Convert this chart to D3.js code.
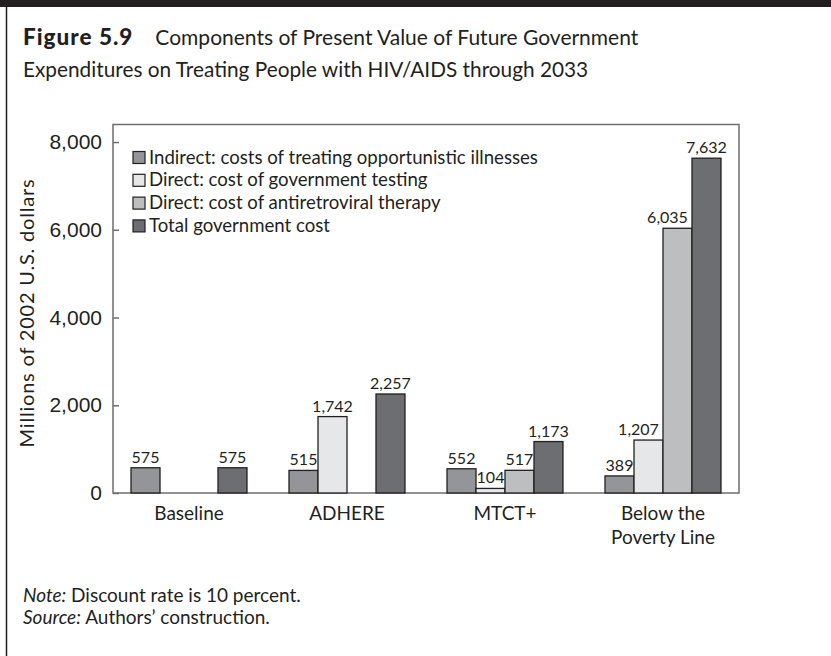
<!doctype html>
<html lang="en">
    <head>
        <meta charset="UTF-8" />
        <title>Figure 5.9</title>
        <script src="https://d3js.org/d3.v7.min.js"></script>
        <style>
            body {
                margin: 0;
                background: #fff;
            }
            svg {
                display: block;
                font-family: Futura, Lato, "Noto Sans", sans-serif;
                fill: #231f20;
            }
        </style>
    </head>
    <body>
        <svg id="chart" width="831" height="656"></svg>
        <script>
            const scenarios = ["Baseline", "ADHERE", "MTCT+", "Below the\nPoverty Line"];
            const seriesNames = [
                "Indirect: costs of treating opportunistic illnesses",
                "Direct: cost of government testing",
                "Direct: cost of antiretroviral therapy",
                "Total government cost",
            ];
            // null = no bar in the original
            const indirect = [575, 515, 552, 389];
            const testing = [null, 1742, 104, 1207];
            const art = [null, null, 517, 6035];
            const total = [575, 2257, 1173, 7632];
            const yTicks = [0, 2000, 4000, 6000, 8000];
            const colors = ["#939598", "#e6e7e8", "#bcbec0", "#6d6e71"];

            const series = [indirect, testing, art, total];
            const rows = scenarios.map((s, i) => ({
                name: s,
                values: series.map((v, k) => ({
                    key: k,
                    value: v[i],
                    next: k + 1 < series.length ? series[k + 1][i] : null,
                })),
            }));

            const svg = d3.select("#chart");
            const W = 831, H = 656;
            const ink = "#231f20";

            // page frame: top rule + left rule
            svg.append("rect").attr("x", 0).attr("y", 0).attr("width", W).attr("height", 7).attr("fill", ink);
            svg.append("line").attr("x1", 6.5).attr("x2", 6.5).attr("y1", 7).attr("y2", H)
                .attr("stroke", ink).attr("stroke-width", 1.5);

            // title
            const title = svg.append("text").attr("x", 23).attr("y", 45).style("font-size", "21px");
            title.append("tspan").attr("font-weight", "900").style("font-size", "22.5px")
                .attr("letter-spacing", 1).text("Figure 5.9");
            title.append("tspan").attr("dx", 22).attr("letter-spacing", 0).text("Components of Present Value of Future Government");
            svg.append("text").attr("x", 23).attr("y", 77).style("font-size", "20.8px")
                .text("Expenditures on Treating People with HIV/AIDS through 2033");

            const plot = { left: 113, right: 739, top: 124.5, bottom: 493 };

            const x0 = d3.scaleBand()
                .domain(scenarios)
                .range([plot.left, plot.right])
                .paddingInner(0.266)
                .paddingOuter(0.114);
            const x1 = d3.scaleBand()
                .domain(d3.range(series.length))
                .range([0, x0.bandwidth()]);
            const y = d3.scaleLinear().domain([0, 8400]).range([plot.bottom, plot.top]);

            // plot frame
            svg.append("rect")
                .attr("x", plot.left).attr("y", plot.top)
                .attr("width", plot.right - plot.left).attr("height", plot.bottom - plot.top)
                .attr("fill", "none").attr("stroke", "#6d6e71").attr("stroke-width", 1.5);

            // y axis (ticks pointing inward)
            const yAxis = svg.append("g")
                .attr("transform", `translate(${plot.left},0)`)
                .call(d3.axisRight(y).tickValues(yTicks).tickSize(6).tickFormat(d3.format(",")));
            yAxis.select(".domain").remove();
            yAxis.selectAll("line").attr("stroke", "#6d6e71").attr("stroke-width", 1.5);
            yAxis.selectAll("text")
                .attr("x", -11).attr("text-anchor", "end")
                .attr("fill", ink).style("font-size", "21px").style("font-family", "inherit");

            svg.append("text")
                .attr("transform", "translate(34,313) rotate(-90)")
                .attr("text-anchor", "middle")
                .attr("letter-spacing", 0.8)
                .style("font-size", "20px")
                .text("Millions of 2002 U.S. dollars");

            // bars
            const groups = svg.append("g").selectAll("g")
                .data(rows)
                .join("g")
                .attr("transform", (d) => `translate(${x0(d.name)},0)`);

            groups.selectAll("rect")
                .data((d) => d.values.filter((v) => v.value != null))
                .join("rect")
                .attr("x", (d) => x1(d.key))
                .attr("y", (d) => y(d.value))
                .attr("width", x1.bandwidth())
                .attr("height", (d) => y(0) - y(d.value))
                .attr("fill", (d) => colors[d.key])
                .attr("stroke", ink)
                .attr("stroke-width", 1.3);

            // wide labels next to a taller bar are nudged left, as in the original
            groups.selectAll("text")
                .data((d) => d.values.filter((v) => v.value != null))
                .join("text")
                .attr("x", (d) => x1(d.key) + x1.bandwidth() / 2)
                .attr("dx", (d) => (d.value >= 1000 && d.next != null && d.next > d.value ? -10 : 0))
                .attr("y", (d) => y(d.value) - 5)
                .attr("text-anchor", "middle")
                .style("font-size", "16px")
                .text((d) => d3.format(",")(d.value));

            // category labels
            svg.append("g").selectAll("text")
                .data(scenarios)
                .join("text")
                .attr("text-anchor", "middle")
                .attr("transform", (d) => `translate(${x0(d) + x0.bandwidth() / 2},${plot.bottom + 27})`)
                .style("font-size", "19px")
                .selectAll("tspan")
                .data((d) => d.split("\n"))
                .join("tspan")
                .attr("x", 0)
                .attr("dy", (d, i) => (i === 0 ? 0 : 24))
                .text((d) => d);

            // legend
            const legend = svg.append("g").selectAll("g")
                .data(seriesNames)
                .join("g")
                .attr("transform", (d, i) => `translate(133,${151.5 + i * 22.8})`);
            legend.append("rect")
                .attr("width", 12).attr("height", 12)
                .attr("fill", (d, i) => colors[i])
                .attr("stroke", ink).attr("stroke-width", 1.2);
            legend.append("text")
                .attr("x", 16).attr("y", 12)
                .style("font-size", "18.6px")
                .text((d) => d);

            // notes
            const note = svg.append("text").attr("x", 23).attr("y", 602).style("font-size", "19px");
            note.append("tspan").attr("font-style", "italic").text("Note:");
            note.append("tspan").text(" Discount rate is 10 percent.");
            const src = svg.append("text").attr("x", 23).attr("y", 624).style("font-size", "19px");
            src.append("tspan").attr("font-style", "italic").text("Source:");
            src.append("tspan").text(" Authors’ construction.");
        </script>
    </body>
</html>
